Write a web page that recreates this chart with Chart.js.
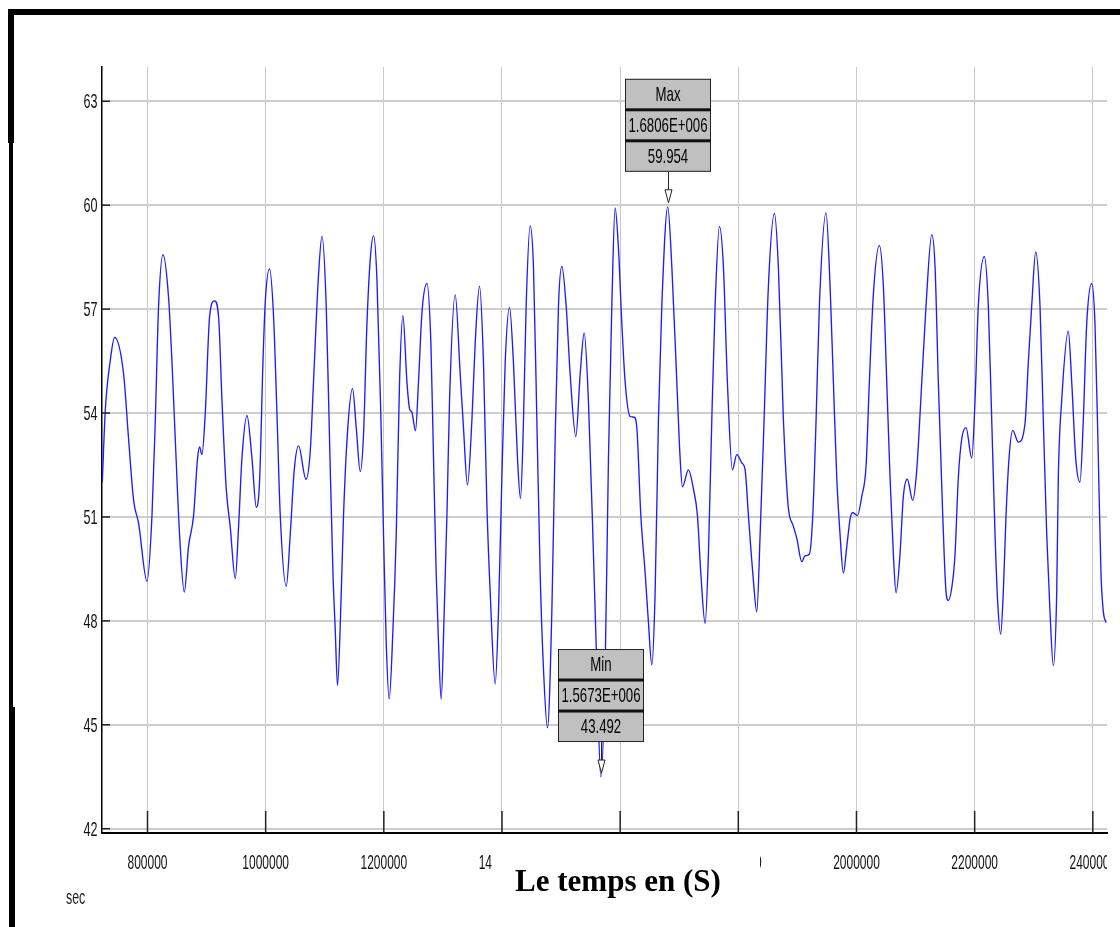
<!DOCTYPE html>
<html>
<head>
<meta charset="utf-8">
<title>Le temps en (S)</title>
<script src="https://cdn.jsdelivr.net/npm/chart.js@4.4.0/dist/chart.umd.min.js"></script>
<style>
  html, body { margin: 0; padding: 0; background: #fff; }
  #wrap { position: relative; width: 1120px; height: 927px; overflow: hidden; background: #fff; }
  #chart { position: absolute; left: 0; top: 0; }
  .bar { position: absolute; background: #000; }
  #cover { position: absolute; left: 492px; top: 842px; width: 268px; height: 64px; background: #fff; }
  #xtitle {
    position: absolute; left: 418px; top: 865px; width: 400px; text-align: center;
    font-family: "Liberation Serif", "Times New Roman", serif; font-weight: bold;
    font-size: 31px; line-height: 32px; color: #000;
  }
  #unit {
    position: absolute; left: 66px; top: 887px; line-height: 20px;
    font-family: "Liberation Sans", Arial, sans-serif; font-size: 20px; color: #222;
    transform: scaleX(0.62); transform-origin: left top;
  }
</style>
</head>
<body>
<div id="wrap">
  <canvas id="chart" width="1120" height="927"></canvas>
  <div class="bar" style="left:8px; top:9px; width:1112px; height:6px;"></div>
  <div class="bar" style="left:8px; top:9px; width:6px; height:134px;"></div>
  <div class="bar" style="left:9px; top:143px; width:4px; height:564px;"></div>
  <div class="bar" style="left:9px; top:707px; width:6px; height:220px;"></div>
  <div id="cover"></div>
  <div id="xtitle">Le temps en (S)</div>
  <div id="unit">sec</div>
</div>
<script>
const timeSec = [
  723500, 728600, 737100, 744300, 759600, 768000, 776500, 784900, 799200, 807600,
  813200, 818800, 826200, 835700, 841500, 847000, 854300, 862300, 869500, 878000,
  884800, 888200, 892200, 897800, 905100, 913500, 920300, 926100, 933300, 940100,
  948600, 954100, 959900, 968400, 976800, 984100, 989700, 995400, 999300, 1006600,
  1013400, 1019100, 1024700, 1034900, 1041600, 1048400, 1055700, 1068200, 1075500, 1081000,
  1089500, 1095300, 1102500, 1108100, 1113900, 1117800, 1121600, 1127400, 1131800, 1138600,
  1147000, 1153300, 1160100, 1165600, 1171400, 1177000, 1182600, 1188300, 1195100, 1199500,
  1204000, 1209100, 1215400, 1221000, 1226600, 1232300, 1239100, 1243500, 1247500, 1253600,
  1258700, 1264500, 1272900, 1279700, 1284100, 1288600, 1292500, 1297100, 1302200, 1306800,
  1311200, 1320800, 1329300, 1334800, 1341600, 1349100, 1354600, 1361900, 1368700, 1374400,
  1380000, 1388500, 1394100, 1399800, 1405400, 1412700, 1419400, 1426200, 1431300, 1436400,
  1440900, 1447700, 1453300, 1459000, 1464600, 1470200, 1477000, 1484400, 1490000, 1495600,
  1501300, 1508600, 1515400, 1525000, 1532300, 1539100, 1546300, 1554800, 1560600, 1567300,
  1574600, 1580200, 1585900, 1591500, 1597100, 1602900, 1608400, 1616900, 1623700, 1628200,
  1635000, 1642300, 1647900, 1653600, 1659200, 1664800, 1670500, 1680600, 1687500, 1695900,
  1701500, 1705400, 1715500, 1724000, 1730800, 1736500, 1743800, 1749400, 1755100, 1760700,
  1768000, 1774800, 1781500, 1790000, 1797400, 1805900, 1811500, 1817100, 1824500, 1831300,
  1836900, 1843600, 1850900, 1861100, 1867800, 1876300, 1879200, 1884700, 1893200, 1899000,
  1907400, 1913000, 1920300, 1926000, 1931600, 1937200, 1948500, 1955300, 1960900, 1966600,
  1972200, 1977800, 1983600, 1989100, 1993700, 2001500, 2008900, 2016200, 2021800, 2028600,
  2038700, 2045500, 2051200, 2056800, 2062400, 2067000, 2073700, 2079300, 2086100, 2095200,
  2102000, 2108800, 2117700, 2127400, 2133000, 2138500, 2146000, 2151600, 2155500, 2162900,
  2166800, 2172400, 2178100, 2185400, 2195100, 2200600, 2206200, 2216400, 2223100, 2228900,
  2234500, 2239100, 2244100, 2248500, 2253100, 2258200, 2264400, 2273900, 2285200, 2290800,
  2296600, 2303300, 2310600, 2316200, 2322000, 2327500, 2333100, 2338900, 2341600, 2347300,
  2358500, 2364300, 2371000, 2378300, 2383900, 2389600, 2398100, 2403700, 2409300, 2413800,
  2417700, 2422300
];
const values = [
  52.0, 54.09, 55.53, 56.18, 55.12, 53.25, 51.48, 50.82, 49.14, 51.04,
  53.8, 57.1, 58.57, 57.33, 55.45, 53.25, 50.49, 48.83, 50.15, 51.04,
  52.7, 53.02, 52.8, 54.0, 56.78, 57.24, 56.78, 54.35, 51.81, 50.7,
  49.22, 50.7, 52.7, 53.93, 52.7, 51.28, 52.03, 55.45, 57.2, 58.16,
  56.78, 54.0, 51.04, 49.0, 50.49, 52.36, 53.05, 52.09, 52.9, 54.9,
  57.99, 59.1, 57.1, 53.25, 49.38, 47.73, 46.13, 48.5, 51.04, 53.47,
  54.71, 53.58, 52.31, 53.36, 56.56, 58.43, 59.12, 57.88, 53.8, 50.49,
  47.4, 45.74, 47.73, 50.49, 54.9, 56.81, 54.9, 54.13, 54.02, 53.49,
  54.9, 56.89, 57.74, 56.0, 52.7, 49.38, 47.4, 45.74, 48.28, 51.04,
  54.35, 57.42, 55.12, 53.58, 51.92, 53.8, 56.0, 57.66, 55.45, 51.37,
  48.83, 46.18, 48.28, 52.14, 55.45, 57.05, 55.45, 52.7, 51.53, 53.8,
  57.1, 59.4, 58.2, 53.8, 49.38, 46.62, 44.91, 48.28, 53.25, 57.1,
  58.23, 57.1, 55.12, 53.32, 55.12, 56.31, 54.35, 49.93, 46.62, 43.492,
  46.62, 52.7, 57.1, 59.92, 58.76, 56.56, 54.9, 53.9, 53.88, 53.58,
  51.04, 49.38, 47.95, 46.73, 48.83, 53.8, 57.1, 59.954, 58.21, 54.9,
  52.7, 51.87, 52.36, 51.81, 51.04, 49.38, 47.93, 49.93, 53.8, 57.1,
  59.39, 58.21, 54.9, 52.36, 52.8, 52.56, 52.36, 51.04, 49.38, 48.26,
  50.49, 53.8, 57.66, 59.76, 58.21, 53.8, 52.7, 51.26, 50.73, 50.38,
  49.71, 49.88, 49.93, 51.04, 53.8, 57.1, 59.78, 57.66, 54.9, 52.14,
  50.49, 49.38, 50.15, 50.93, 51.13, 51.04, 51.59, 52.47, 54.9, 57.44,
  58.84, 57.66, 54.9, 52.14, 49.93, 48.81, 49.93, 51.59, 52.09, 51.48,
  52.36, 54.35, 57.1, 59.15, 58.21, 54.9, 51.04, 48.83, 48.59, 49.16,
  49.93, 52.14, 53.25, 53.58, 52.7, 54.35, 57.1, 58.52, 57.1, 53.8,
  50.49, 48.5, 47.62, 48.83, 51.04, 52.7, 53.5, 53.16, 53.69, 55.45,
  57.1, 58.65, 57.1, 53.8, 50.49, 48.28, 46.71, 48.83, 52.14, 54.35,
  56.36, 54.9, 52.7, 52.01, 53.8, 56.56, 57.74, 56.56, 52.7, 49.38,
  48.28, 47.95
];

const xTicks = [800000, 1000000, 1200000, 1400000, 1600000, 1800000, 2000000, 2200000, 2400000];
const yTicks = [42, 45, 48, 51, 54, 57, 60, 63];

// marked extrema
const maxPoint = { name: 'Max', x: 1680600, y: 59.954 };
const minPoint = { name: 'Min', x: 1567300, y: 43.492 };

function sciLabel(v) {
  const parts = v.toExponential(4).split('e');
  const exp = Math.abs(parseInt(parts[1], 10));
  return parts[0] + 'E' + (parts[1][0] === '-' ? '-' : '+') + String(exp).padStart(3, '0');
}

// narrow text, like the squeezed labels of the original
function drawNarrow(ctx, text, x, y, align, sx) {
  ctx.save();
  ctx.translate(x, y);
  ctx.scale(sx, 1);
  ctx.textAlign = align;
  ctx.fillText(text, 0, 0);
  ctx.restore();
}

function drawCallout(ctx, px, py, lines) {
  const w = 86, rowH = 31, h = rowH * 3;
  const tip = py - 4, triTop = tip - 13, bottom = py - 35, top = bottom - h;
  const left = Math.round(px - w / 2);
  ctx.save();
  ctx.fillStyle = '#c0c0c0';
  ctx.fillRect(left, top, w, h);
  ctx.strokeStyle = '#222';
  ctx.lineWidth = 1;
  ctx.strokeRect(left + 0.5, top + 0.5, w - 1, h - 1);
  ctx.fillStyle = '#111';
  ctx.fillRect(left, top + rowH - 1.5, w, 3);
  ctx.fillRect(left, top + 2 * rowH - 1.5, w, 3);
  ctx.font = '21px "Liberation Sans", Arial, sans-serif';
  ctx.textBaseline = 'middle';
  ctx.fillStyle = '#000';
  lines.forEach((t, i) => drawNarrow(ctx, t, left + w / 2, top + rowH * i + rowH / 2 + 1, 'center', 0.63));
  const cx = Math.round(px) + 0.5;
  ctx.beginPath();
  ctx.moveTo(cx, bottom);
  ctx.lineTo(cx, triTop);
  ctx.stroke();
  ctx.beginPath();
  ctx.moveTo(cx - 3.5, triTop);
  ctx.lineTo(cx + 3.5, triTop);
  ctx.lineTo(cx, tip);
  ctx.closePath();
  ctx.fillStyle = '#fff';
  ctx.fill();
  ctx.stroke();
  ctx.restore();
}

const decorations = {
  id: 'decorations',
  afterDraw(chart) {
    const { ctx, chartArea } = chart;
    const x = chart.scales.x, y = chart.scales.y;
    ctx.save();
    // tick marks inside the plot
    ctx.strokeStyle = '#222';
    ctx.lineWidth = 1.5;
    yTicks.forEach(v => {
      const py = y.getPixelForValue(v);
      ctx.beginPath();
      ctx.moveTo(chartArea.left, py);
      ctx.lineTo(chartArea.left + 8, py);
      ctx.stroke();
    });
    xTicks.forEach(v => {
      const px = x.getPixelForValue(v);
      ctx.beginPath();
      ctx.moveTo(px, chartArea.bottom);
      ctx.lineTo(px, chartArea.bottom - 22);
      ctx.stroke();
    });
    // tick labels (the last x label is cut at the right edge, as in the original)
    ctx.fillStyle = '#111';
    ctx.font = '21px "Liberation Sans", Arial, sans-serif';
    ctx.textBaseline = 'middle';
    yTicks.forEach(v => drawNarrow(ctx, String(v), chartArea.left - 4.5, y.getPixelForValue(v) + 1, 'right', 0.6));
    ctx.beginPath();
    ctx.rect(0, chartArea.bottom + 2, chartArea.right, 60);
    ctx.clip();
    xTicks.forEach(v => drawNarrow(ctx, String(v), x.getPixelForValue(v), chartArea.bottom + 30, 'center', 0.57));
    ctx.restore();
    // extrema callouts
    [maxPoint, minPoint].forEach(p => {
      drawCallout(ctx, x.getPixelForValue(p.x), y.getPixelForValue(p.y),
        [p.name, sciLabel(p.x), p.y.toFixed(3)]);
    });
  }
};

new Chart(document.getElementById('chart'), {
  type: 'line',
  data: {
    datasets: [{
      data: timeSec.map((t, i) => ({ x: t, y: values[i] })),
      borderColor: 'rgb(28, 28, 255)',
      borderWidth: 1.35,
      pointRadius: 0,
      fill: false,
      cubicInterpolationMode: 'monotone'
    }]
  },
  options: {
    responsive: false,
    animation: false,
    layout: { padding: { left: 0, top: 67, right: 13, bottom: 0 } },
    plugins: {
      legend: { display: false },
      tooltip: { enabled: false }
    },
    scales: {
      x: {
        type: 'linear',
        min: 723000,
        max: 2424000,
        afterBuildTicks: axis => { axis.ticks = xTicks.map(v => ({ value: v })); },
        afterFit: axis => { axis.height = 94; },
        ticks: { display: false },
        grid: { color: '#c8c8c8', lineWidth: 1, drawTicks: false },
        border: { color: '#000', width: 2 }
      },
      y: {
        min: 41.876,
        max: 63.99,
        afterBuildTicks: axis => { axis.ticks = yTicks.map(v => ({ value: v })); },
        afterFit: axis => { axis.width = 102; },
        ticks: { display: false },
        grid: { color: '#cdcdcd', lineWidth: 2, drawTicks: false },
        border: { color: '#000', width: 1.5 }
      }
    }
  },
  plugins: [decorations]
});
</script>
</body>
</html>
